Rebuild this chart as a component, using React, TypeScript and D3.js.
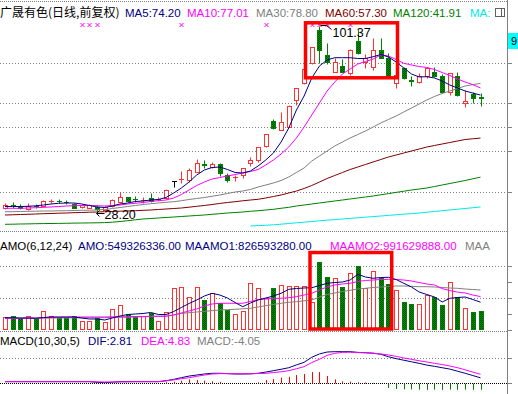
import * as d3 from "d3";
import { useEffect, useRef } from "react";

const W = 518;
const H = 394;

// 日线 OHLC（前复权）
const opens = [29.8, 31.0, 30.7, 29.4, 30.7, 30.7, 32.5, 32.6, 32.2, 31.4, 30.2, 29.9, 30.3, 29.0, 30.6, 32.3, 34.0, 33.4, 32.9, 33.6, 33.2, 33.6, 40.5, 41.0, 40.8, 44.1, 46.9, 45.9, 47.1, 42.8, 41.8, 42.8, 47.6, 48.5, 54.2, 64.0, 60.5, 61.8, 72.3, 78.8, 86.7, 99.8, 90.0, 83.4, 85.8, 82.8, 95.5, 87.3, 85.4, 91.9, 88.9, 78.8, 84.7, 80.0, 79.5, 81.7, 83.2, 81.7, 75.5, 81.7, 71.0, 74.5, 73.3];
const highs = [31.7, 32.0, 31.5, 31.6, 31.2, 32.9, 33.2, 33.4, 32.9, 31.8, 31.2, 31.2, 31.0, 30.7, 33.3, 36.2, 34.2, 34.4, 34.2, 35.5, 34.0, 37.1, 40.5, 44.5, 45.4, 48.9, 48.7, 47.9, 47.6, 43.4, 42.8, 45.4, 50.0, 53.9, 58.9, 64.7, 67.7, 70.3, 76.9, 84.5, 93.0, 101.37, 94.6, 88.7, 88.4, 92.3, 99.8, 90.2, 96.5, 96.5, 90.6, 82.1, 85.1, 81.7, 83.0, 85.4, 85.4, 82.6, 82.8, 83.4, 76.2, 75.5, 74.9];
const lows = [29.4, 29.7, 29.5, 29.0, 29.9, 30.3, 31.6, 31.6, 31.3, 29.7, 29.8, 29.7, 28.2, 28.6, 30.3, 32.2, 32.2, 32.1, 31.8, 32.3, 32.6, 33.2, 38.0, 39.7, 40.1, 44.1, 45.4, 45.5, 42.2, 40.1, 40.5, 41.6, 46.2, 48.0, 53.6, 60.7, 60.5, 61.6, 70.3, 78.6, 86.4, 86.7, 86.3, 83.2, 83.2, 82.1, 90.3, 84.7, 84.1, 88.6, 81.4, 76.9, 80.5, 77.7, 78.8, 81.0, 81.5, 75.0, 74.2, 74.0, 69.6, 71.0, 70.0];
const closes = [30.9, 30.9, 29.9, 30.6, 30.6, 32.5, 32.6, 32.5, 32.1, 29.9, 31.0, 30.8, 29.3, 30.2, 32.9, 34.0, 32.4, 33.3, 33.0, 32.6, 33.3, 36.85, 40.5, 41.1, 44.7, 47.4, 46.8, 47.1, 43.4, 40.8, 41.9, 45.4, 48.7, 53.6, 58.9, 61.4, 63.7, 69.9, 76.9, 84.3, 93.0, 91.9, 87.3, 87.3, 83.4, 91.9, 90.6, 88.7, 91.9, 88.9, 81.7, 82.1, 80.8, 79.9, 81.7, 84.7, 81.7, 75.3, 82.8, 74.2, 71.9, 72.9, 73.2];

// 均线
const ma5 = [30.36, 30.36, 30.36, 30.44, 30.64, 30.95, 31.35, 31.62, 31.74, 31.74, 31.35, 30.76, 30.17, 29.97, 30.56, 31.35, 31.74, 32.33, 32.53, 32.92, 33.12, 33.91, 35.68, 37.64, 40.0, 42.76, 44.72, 45.71, 45.9, 44.92, 43.74, 43.54, 44.33, 46.3, 48.66, 51.41, 55.74, 61.25, 68.33, 73.83, 80.92, 85.64, 88.0, 88.9, 88.9, 88.9, 88.59, 88.59, 89.29, 90.16, 89.18, 87.21, 84.85, 82.49, 81.31, 81.43, 80.92, 79.74, 78.16, 76.98, 75.8, 75.0, 74.2];
const ma10 = [29.66, 29.66, 29.66, 29.77, 29.89, 30.05, 30.17, 30.36, 30.56, 30.68, 30.76, 30.76, 30.68, 30.56, 30.76, 30.95, 31.35, 31.62, 31.94, 32.33, 32.65, 32.92, 33.71, 35.09, 36.86, 38.63, 40.0, 41.18, 41.77, 42.36, 42.95, 43.54, 44.13, 44.92, 46.69, 48.66, 51.02, 53.77, 57.31, 61.64, 66.36, 71.08, 75.8, 79.34, 82.49, 84.46, 86.42, 87.41, 88.39, 89.96, 89.57, 88.19, 86.7, 86.03, 85.44, 85.05, 84.26, 83.08, 81.9, 80.52, 79.34, 78.3, 77.01];
const ma30 = [28.32, 28.32, 28.4, 28.48, 28.52, 28.59, 28.59, 28.67, 28.71, 28.79, 28.87, 28.91, 28.99, 29.18, 29.58, 29.97, 30.36, 30.76, 31.15, 31.47, 31.74, 32.02, 32.25, 32.65, 33.12, 33.51, 33.91, 34.38, 34.89, 35.48, 36.07, 36.46, 37.05, 38.04, 38.82, 39.61, 40.59, 41.97, 43.74, 45.51, 48.26, 50.23, 52.2, 54.16, 55.74, 57.31, 58.69, 60.07, 61.64, 63.21, 64.59, 65.97, 67.54, 69.11, 70.69, 72.26, 73.64, 74.82, 75.8, 76.78, 77.77, 78.3, 78.8];
const ma60 = [27.02, 27.1, 27.22, 27.3, 27.41, 27.53, 27.61, 27.73, 27.81, 27.93, 28.0, 28.12, 28.2, 28.32, 28.4, 28.52, 28.59, 28.71, 28.87, 28.99, 29.18, 29.38, 29.58, 29.77, 30.09, 30.44, 30.76, 31.15, 31.55, 31.94, 32.25, 32.61, 32.92, 33.2, 33.71, 34.3, 34.89, 35.68, 36.46, 37.45, 38.63, 40.0, 41.38, 42.56, 43.74, 44.92, 45.9, 46.89, 47.87, 48.85, 49.84, 50.62, 51.41, 52.2, 52.98, 53.77, 54.36, 54.95, 55.54, 56.13, 56.72, 57.0, 57.3];
const ma120 = [23.36, 23.4, 23.48, 23.52, 23.6, 23.64, 23.68, 23.72, 23.76, 23.83, 23.87, 23.91, 23.95, 24.03, 24.19, 24.46, 24.78, 25.13, 25.45, 25.64, 25.84, 26.04, 26.23, 26.43, 26.63, 26.83, 27.02, 27.3, 27.53, 27.81, 28.0, 28.2, 28.48, 28.71, 28.99, 29.26, 29.66, 30.05, 30.56, 30.95, 31.35, 31.74, 32.14, 32.53, 32.92, 33.32, 33.71, 34.1, 34.5, 34.97, 35.44, 35.91, 36.38, 36.85, 37.25, 37.64, 38.23, 38.82, 39.41, 40.0, 40.59, 41.26, 41.91];
// long MA only exists from this bar on
const maLongStart = 32;
const maLong = [22.69, 22.85, 22.97, 23.17, 23.4, 23.68, 23.95, 24.19, 24.46, 24.74, 24.98, 25.21, 25.45, 25.68, 25.92, 26.16, 26.39, 26.63, 26.86, 27.1, 27.34, 27.57, 27.81, 28.12, 28.4, 28.71, 28.99, 29.3, 29.58, 29.89, 30.17];

// 成交额 AMO（元）
const amo = [395e6, 416e6, 365e6, 416e6, 327e6, 564e6, 416e6, 365e6, 365e6, 416e6, 267e6, 267e6, 365e6, 238e6, 615e6, 742e6, 475e6, 425e6, 416e6, 514e6, 267e6, 534e6, 1238e6, 1268e6, 971e6, 1268e6, 891e6, 1090e6, 793e6, 594e6, 475e6, 564e6, 1386e6, 1238e6, 941e6, 1238e6, 1336e6, 1306e6, 1306e6, 1306e6, 840e6, 2028e6, 1582e6, 1535e6, 1285e6, 1683e6, 1909e6, 1238e6, 1752e6, 1553e6, 1366e6, 1188e6, 840e6, 772e6, 772e6, 1039e6, 989e6, 742e6, 1416e6, 989e6, 644e6, 543e6, 549326336];
const maamo1 = [365e6, 365e6, 356e6, 356e6, 347e6, 371e6, 386e6, 386e6, 386e6, 386e6, 356e6, 327e6, 327e6, 297e6, 356e6, 416e6, 460e6, 475e6, 490e6, 520e6, 460e6, 460e6, 549e6, 668e6, 787e6, 891e6, 1009e6, 1090e6, 1039e6, 950e6, 816e6, 692e6, 802e6, 891e6, 950e6, 1009e6, 1090e6, 1208e6, 1232e6, 1247e6, 1256e6, 1321e6, 1386e6, 1410e6, 1425e6, 1484e6, 1654e6, 1573e6, 1535e6, 1559e6, 1565e6, 1499e6, 1386e6, 1277e6, 1128e6, 1054e6, 980e6, 831e6, 941e6, 965e6, 980e6, 905e6, 826593280];
const maamo2 = [347e6, 347e6, 347e6, 356e6, 356e6, 362e6, 371e6, 377e6, 380e6, 386e6, 386e6, 386e6, 386e6, 386e6, 392e6, 395e6, 395e6, 401e6, 401e6, 407e6, 407e6, 407e6, 445e6, 505e6, 564e6, 623e6, 713e6, 772e6, 793e6, 793e6, 793e6, 793e6, 846e6, 905e6, 920e6, 935e6, 941e6, 959e6, 989e6, 1039e6, 1090e6, 1188e6, 1277e6, 1336e6, 1366e6, 1386e6, 1440e6, 1470e6, 1484e6, 1499e6, 1505e6, 1499e6, 1484e6, 1455e6, 1410e6, 1366e6, 1336e6, 1230e6, 1170e6, 1125e6, 1098e6, 1039e6, 991629888];
const maamo3 = [347e6, 347e6, 347e6, 350e6, 350e6, 356e6, 356e6, 356e6, 362e6, 362e6, 362e6, 365e6, 365e6, 365e6, 371e6, 377e6, 380e6, 386e6, 392e6, 401e6, 407e6, 416e6, 445e6, 490e6, 514e6, 534e6, 555e6, 573e6, 594e6, 603e6, 615e6, 629e6, 644e6, 683e6, 721e6, 757e6, 793e6, 822e6, 840e6, 867e6, 891e6, 980e6, 1054e6, 1098e6, 1143e6, 1179e6, 1217e6, 1238e6, 1262e6, 1277e6, 1291e6, 1306e6, 1306e6, 1297e6, 1285e6, 1285e6, 1277e6, 1262e6, 1247e6, 1238e6, 1217e6, 1202e6, 1188e6];

// MACD(10,30,5)
const dif = [0.6, 0.6, 0.6, 0.6, 0.6, 0.6, 0.6, 0.6, 0.6, 0.6, 0.6, 0.6, 0.2, 0.0, 0.3, 0.6, 0.6, 0.6, 0.6, 0.6, 0.6, 1.15, 1.9, 2.9, 3.8, 4.4, 5.0, 5.4, 5.4, 5.2, 5.0, 5.0, 5.1, 5.4, 6.1, 6.9, 7.7, 8.6, 10.2, 11.7, 14.6, 16.5, 17.6, 17.8, 17.8, 17.8, 17.4, 17.2, 16.9, 16.3, 14.9, 13.8, 12.9, 12.0, 11.1, 10.1, 9.4, 8.6, 7.8, 6.6, 5.4, 4.1, 2.81];
const dea = [0.6, 0.6, 0.6, 0.6, 0.6, 0.6, 0.6, 0.6, 0.6, 0.6, 0.6, 0.6, 0.5, 0.4, 0.4, 0.45, 0.5, 0.6, 0.6, 0.6, 0.6, 1.05, 1.6, 2.3, 2.85, 3.65, 4.4, 5.0, 5.2, 5.2, 5.15, 5.1, 5.1, 5.3, 5.35, 5.85, 6.25, 6.9, 8.0, 9.2, 11.55, 13.45, 15.7, 16.85, 17.4, 17.5, 17.3, 17.15, 16.95, 16.5, 15.9, 15.1, 14.2, 13.4, 12.6, 11.9, 11.1, 10.4, 9.6, 8.6, 7.4, 6.1, 4.83];
const macd = [0, 0, 0, 0, 0, 0, 0, 0, 0, 0, 0, 0, 0, 0, 0, 0, 0, 0, 0, 0, 0, 0.2, 0.6, 1.15, 1.9, 1.5, 1.15, 0.75, 0.4, 0, 0, 0, 0, 0.2, 1.5, 2.1, 2.9, 3.4, 4.4, 5.0, 6.1, 6.1, 3.8, 1.9, 0.75, 0.6, 0.2, 0.1, -0.1, -0.6, -3.0, -3.6, -3.8, -3.9, -4.0, -4.1, -4.0, -4.1, -4.0, -4.1, -4.0, -4.1, -4.05];

// 信号标记 (×)
const signalBars = [10, 11, 12, 23, 34, 40, 41, 42, 45];

// 网格
const priceGrid = [86.8, 71.1, 61.6, 52.2, 36.1];
const amoGrid = [950e6, 1900e6];
const macdGrid = [14];

const RED = "#ff3232";
const GREEN = "#008000";
const NAVY = "#000080";
const MAGENTA = "#ff00ff";
const GRAY = "#808080";
const DARKRED = "#800000";
const CYAN = "#00e8e8";
const LAT = "'Liberation Sans', Arial, sans-serif";
const CJK = "'Noto Sans CJK SC', sans-serif";

const drawChart = (el) => {
  const svg = d3.select(el);
  svg.selectAll("*").remove();
  const n = closes.length;

  const x = d3.scaleLinear().domain([0, n - 1]).range([5, 480.5]);
  const cx = (i) => Math.round(x(i)) + 0.5;
  const yP = d3.scaleLinear().domain([28.2, 101.37]).range([212, 26]);
  const yV = d3.scaleLinear().domain([0, 1900e6]).range([330, 266]);
  const yM = d3.scaleLinear().domain([0, 14]).range([382.7, 358.3]);
  const px = (v) => Math.round(v) + 0.5;

  const defs = svg.append("defs");
  const pat = defs
    .append("pattern")
    .attr("id", "dn")
    .attr("width", 2)
    .attr("height", 2)
    .attr("patternUnits", "userSpaceOnUse");
  pat.append("rect").attr("width", 2).attr("height", 2).attr("fill", "#009000");
  pat.append("rect").attr("width", 1).attr("height", 1).attr("fill", "#004c00");
  pat.append("rect").attr("x", 1).attr("y", 1).attr("width", 1).attr("height", 1).attr("fill", "#004c00");

  svg.append("rect").attr("width", W).attr("height", H).attr("fill", "#fff");

  const hline = (y, color, dash) =>
    svg
      .append("line")
      .attr("x1", 0)
      .attr("x2", 507)
      .attr("y1", y)
      .attr("y2", y)
      .attr("stroke", color)
      .attr("stroke-dasharray", dash);

  // frame / separators
  hline(1.5, GRAY, "1 1");
  hline(231.5, GRAY, "1 1");
  hline(331.5, GRAY, "1 1");
  priceGrid.forEach((v) => hline(px(yP(v)), GRAY, "1 2"));
  amoGrid.forEach((v) => hline(px(yV(v)), GRAY, "1 2"));
  macdGrid.forEach((v) => hline(px(yM(v)), GRAY, "1 2"));
  hline(px(yM(0)), "#000", "1 1");

  svg
    .append("line")
    .attr("x1", 507.5)
    .attr("x2", 507.5)
    .attr("y1", 0)
    .attr("y2", H)
    .attr("stroke", GRAY);
  const ticks = [
    ...priceGrid.map((v) => px(yP(v))),
    ...[0, 475e6, 950e6, 1425e6, 1900e6].map((v) => px(yV(v))),
    ...[0, 14].map((v) => px(yM(v)))
  ];
  svg
    .append("g")
    .selectAll("line")
    .data(ticks)
    .join("line")
    .attr("x1", 507)
    .attr("x2", 512)
    .attr("y1", (d) => d)
    .attr("y2", (d) => d)
    .attr("stroke", GRAY);

  // icon + price tag at right
  svg.append("rect").attr("x", 495.5).attr("y", 8.5).attr("width", 9).attr("height", 8).attr("fill", "none").attr("stroke", "#606060");
  svg.append("line").attr("x1", 501.5).attr("x2", 501.5).attr("y1", 8.5).attr("y2", 16.5).attr("stroke", "#606060");
  svg.append("rect").attr("x", 508).attr("y", 33).attr("width", 10).attr("height", 16).attr("fill", "#00ffff");
  svg.append("text").attr("x", 511).attr("y", 45).attr("font-family", LAT).attr("font-size", 11).text("9");

  // candles
  const candles = d3.range(n).map((i) => ({ i, o: opens[i], h: highs[i], l: lows[i], c: closes[i] }));
  const colorOf = (d) => (d.c > d.o ? RED : d.c < d.o ? GREEN : "#000");
  const cg = svg
    .append("g")
    .selectAll("g")
    .data(candles)
    .join("g");
  cg.append("line")
    .attr("x1", (d) => cx(d.i))
    .attr("x2", (d) => cx(d.i))
    .attr("y1", (d) => px(yP(d.h)))
    .attr("y2", (d) => px(yP(d.l)))
    .attr("stroke", colorOf);
  cg.each(function (d) {
    const g = d3.select(this);
    const top = px(yP(Math.max(d.o, d.c)));
    const bot = px(yP(Math.min(d.o, d.c)));
    if (bot - top < 1) {
      g.append("line")
        .attr("x1", cx(d.i) - 2.5)
        .attr("x2", cx(d.i) + 2.5)
        .attr("y1", top)
        .attr("y2", top)
        .attr("stroke", colorOf(d));
    } else {
      g.append("rect")
        .attr("x", cx(d.i) - 2)
        .attr("y", top)
        .attr("width", 4)
        .attr("height", bot - top)
        .attr("fill", d.c > d.o ? "#fff" : "url(#dn)")
        .attr("stroke", colorOf(d));
    }
  });

  // moving averages
  const pLine = d3
    .line()
    .defined((d) => d != null)
    .x((_, i) => x(i))
    .y((d) => yP(d));
  const maLongFull = d3.range(n).map((i) => (i < maLongStart ? null : maLong[i - maLongStart]));
  const maSeries = [
    [ma120, GREEN],
    [ma60, DARKRED],
    [ma30, GRAY],
    [maLongFull, CYAN],
    [ma10, MAGENTA],
    [ma5, NAVY]
  ];
  svg
    .append("g")
    .attr("fill", "none")
    .selectAll("path")
    .data(maSeries)
    .join("path")
    .attr("d", (d) => pLine(d[0]))
    .attr("stroke", (d) => d[1])
    .attr("stroke-width", 1);

  // signal marks
  svg
    .append("g")
    .attr("stroke", MAGENTA)
    .selectAll("path")
    .data(signalBars)
    .join("path")
    .attr("d", (i) => {
      const c = cx(i);
      return `M${c - 2},23 L${c + 2},27 M${c + 2},23 L${c - 2},27`;
    });

  // max / min labels
  const maxIdx = d3.maxIndex(highs);
  const minIdx = d3.minIndex(lows);
  const mx = cx(maxIdx);
  const my = px(yP(highs[maxIdx]));
  svg
    .append("path")
    .attr("d", `M${mx + 1},${my - 1} L${mx + 7},${my - 1} L${mx + 12},${my + 3}`)
    .attr("fill", "none")
    .attr("stroke", "#000");
  svg
    .append("text")
    .attr("x", mx + 13)
    .attr("y", my + 10)
    .attr("font-family", LAT)
    .attr("font-size", 12.5)
    .text(highs[maxIdx].toFixed(2));
  const nx = cx(minIdx) - 1;
  const ny = px(yP(lows[minIdx])) + 1;
  svg
    .append("path")
    .attr("d", `M${nx + 8},${ny} L${nx},${ny} M${nx + 3},${ny - 3} L${nx},${ny} L${nx + 3},${ny + 3}`)
    .attr("fill", "none")
    .attr("stroke", "#000");
  svg
    .append("text")
    .attr("x", nx + 8)
    .attr("y", ny + 5)
    .attr("font-family", LAT)
    .attr("font-size", 12.5)
    .text(lows[minIdx].toFixed(2));

  // volume (AMO)
  svg
    .append("g")
    .selectAll("rect")
    .data(candles)
    .join("rect")
    .attr("x", (d) => cx(d.i) - 2)
    .attr("y", (d) => px(yV(amo[d.i])))
    .attr("width", 4)
    .attr("height", (d) => 329.5 - px(yV(amo[d.i])))
    .attr("fill", (d) => (d.c >= d.o ? "#fff" : "url(#dn)"))
    .attr("stroke", (d) => (d.c >= d.o ? RED : GREEN));
  const vLine = d3
    .line()
    .x((_, i) => x(i))
    .y((d) => yV(d));
  svg
    .append("g")
    .attr("fill", "none")
    .selectAll("path")
    .data([
      [maamo3, GRAY],
      [maamo2, MAGENTA],
      [maamo1, NAVY]
    ])
    .join("path")
    .attr("d", (d) => vLine(d[0]))
    .attr("stroke", (d) => d[1]);

  // MACD
  svg
    .append("g")
    .selectAll("line")
    .data(macd.map((v, i) => ({ v, i })).filter((d) => d.v !== 0))
    .join("line")
    .attr("x1", (d) => cx(d.i))
    .attr("x2", (d) => cx(d.i))
    .attr("y1", px(yM(0)))
    .attr("y2", (d) => yM(d.v))
    .attr("stroke", (d) => (d.v > 0 ? "#ff0000" : GREEN));
  const mLine = d3
    .line()
    .x((_, i) => x(i))
    .y((d) => yM(d));
  svg
    .append("g")
    .attr("fill", "none")
    .selectAll("path")
    .data([
      [dif, NAVY],
      [dea, MAGENTA]
    ])
    .join("path")
    .attr("d", (d) => mLine(d[0]))
    .attr("stroke", (d) => d[1]);

  // headers
  const last = n - 1;
  const label = (xPos, y, txt, color, font = LAT, size = 11.5) =>
    svg
      .append("text")
      .attr("x", xPos)
      .attr("y", y)
      .attr("fill", color)
      .attr("font-family", font)
      .attr("font-size", size)
      .text(txt);
  label(0, 17, "广晟有色(日线,前复权)", "#000", CJK, 12);
  label(125, 17, `MA5:${ma5[last].toFixed(2)}`, NAVY);
  label(187, 17, `MA10:${ma10[last].toFixed(2)}`, MAGENTA);
  label(256, 17, `MA30:${ma30[last].toFixed(2)}`, GRAY);
  label(325, 17, `MA60:${ma60[last].toFixed(2)}`, DARKRED);
  label(393, 17, `MA120:${ma120[last].toFixed(2)}`, GREEN);
  label(470, 17, "MA:", CYAN);

  label(0, 250, "AMO(6,12,24)", "#000");
  label(78, 250, `AMO:${amo[last].toFixed(2)}`, NAVY);
  label(185, 250, `MAAMO1:${maamo1[last].toFixed(2)}`, NAVY);
  label(330, 250, `MAAMO2:${maamo2[last].toFixed(2)}`, MAGENTA);
  label(465, 250, "MAA", GRAY);

  label(0, 345, "MACD(10,30,5)", "#000");
  label(88, 345, `DIF:${dif[last].toFixed(2)}`, NAVY);
  label(141, 345, `DEA:${dea[last].toFixed(2)}`, MAGENTA);
  label(197, 345, `MACD:${macd[last].toFixed(2)}`, GRAY);

  // red highlight boxes
  svg
    .append("g")
    .attr("fill", "none")
    .attr("stroke", "#ff0000")
    .attr("stroke-width", 3.5)
    .selectAll("rect")
    .data([
      [305.5, 22.8, 92, 55],
      [310, 252.5, 81.7, 76.5]
    ])
    .join("rect")
    .attr("x", (d) => d[0])
    .attr("y", (d) => d[1])
    .attr("width", (d) => d[2])
    .attr("height", (d) => d[3]);
};

export default function App() {
  const ref = useRef(null);
  useEffect(() => {
    if (ref.current) drawChart(ref.current);
  }, []);
  return (
    <svg
      ref={ref}
      width={W}
      height={H}
      style={{ position: "absolute", left: 0, top: 0, display: "block" }}
    />
  );
}
